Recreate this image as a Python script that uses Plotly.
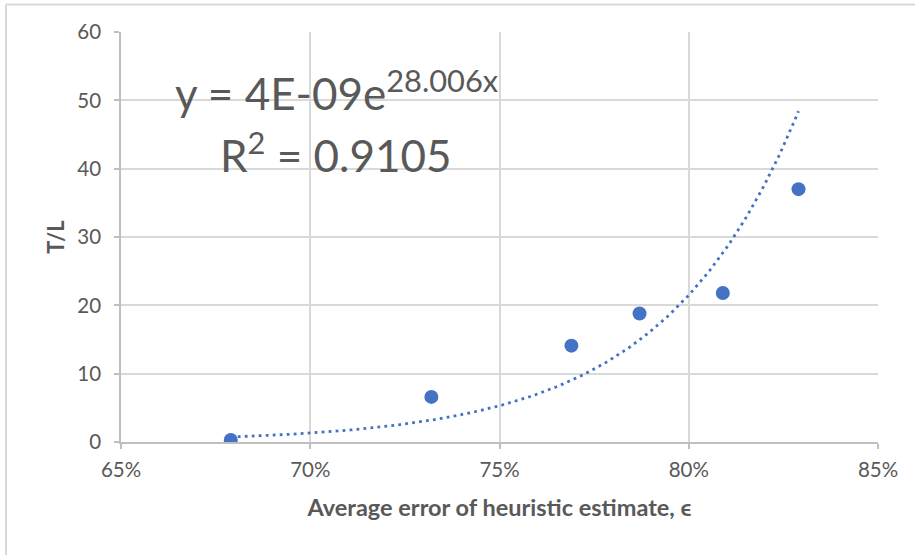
import numpy as np
import plotly.graph_objects as go

# Average error of the heuristic estimate (fraction) and the measured T/L ratio
eps = [0.679, 0.732, 0.769, 0.787, 0.809, 0.829]
ratio = [0.3, 6.6, 14.1, 18.8, 21.8, 37.0]

# Exponential trendline coefficients: y = a * exp(b * x)
trend_a = 4e-09
trend_b = 28.006
r_squared = 0.9105

x_ticks = [0.65, 0.70, 0.75, 0.80, 0.85]
x_tick_text = ["65%", "70%", "75%", "80%", "85%"]
y_ticks = [0, 10, 20, 30, 40, 50, 60]

BLUE = "#4472C4"
TEXT = "#595959"
GRID = "#d9d9d9"
AXIS = "#bfbfbf"
FONT = "Lato"

W, H = 915, 555
L, R, T, B = 121, 37, 32, 113
PW, PH = W - L - R, H - T - B


def px_to_paper(px, py):
    return (px - L) / PW, 1 - (py - T) / PH


xs = np.linspace(min(eps), max(eps), 200)
ys = trend_a * np.exp(trend_b * xs)

fig = go.Figure()
fig.add_trace(go.Scatter(
    x=xs, y=ys, mode="lines",
    line=dict(color=BLUE, width=2.8, dash="2.8px,4.2px"),
    hoverinfo="skip", showlegend=False,
))
fig.add_trace(go.Scatter(
    x=eps, y=ratio, mode="markers",
    marker=dict(color=BLUE, size=14, line=dict(width=0)),
    showlegend=False,
))

eq_text = f"y = {trend_a:.0E}e<sup>{trend_b:.3f}x</sup>"
r2_text = f"R<sup>2</sup> = {r_squared:.4f}"
for text, (px, py) in [(eq_text, (336, 90)), (r2_text, (336, 152))]:
    ax_, ay_ = px_to_paper(px, py)
    fig.add_annotation(
        x=ax_, y=ay_, xref="paper", yref="paper", xanchor="center", yanchor="middle",
        text=text, showarrow=False, font=dict(family=FONT, size=44, color=TEXT),
    )

# chart frame (top and left edges)
fx0, fy0 = px_to_paper(6, 4.5)
fx1, fy1 = px_to_paper(W, H)
fig.add_shape(type="line", xref="paper", yref="paper",
              x0=fx0, x1=fx1, y0=fy0, y1=fy0,
              line=dict(color=GRID, width=2))
fig.add_shape(type="line", xref="paper", yref="paper",
              x0=fx0, x1=fx0, y0=fy0, y1=fy1,
              line=dict(color=GRID, width=2))

fig.update_layout(
    width=W, height=H, autosize=False,
    margin=dict(l=L, r=R, t=T, b=B),
    paper_bgcolor="white", plot_bgcolor="white",
    font=dict(family=FONT, color=TEXT),
    xaxis=dict(
        range=[0.65, 0.85], tickvals=x_ticks, ticktext=x_tick_text,
        showgrid=True, gridcolor=GRID, gridwidth=1.5,
        showline=True, linecolor=AXIS, linewidth=1.5,
        ticks="outside", ticklen=5, tickcolor=AXIS, tickwidth=1.5,
        zeroline=False, tickfont=dict(size=20.5, color=TEXT),
        ticklabelstandoff=4,
        title=dict(text="<b>Average error of heuristic estimate, ϵ</b>",
                   font=dict(size=23.5, color=TEXT), standoff=19),
    ),
    yaxis=dict(
        range=[0, 60], tickvals=y_ticks,
        showgrid=True, gridcolor=GRID, gridwidth=1.5,
        showline=True, linecolor=AXIS, linewidth=1.5,
        ticks="outside", ticklen=5, tickcolor=AXIS, tickwidth=1.5,
        zeroline=False, tickfont=dict(size=20.5, color=TEXT),
        ticklabelstandoff=9,
        title=dict(text="<b>T/L</b>", font=dict(size=22, color=TEXT), standoff=7),
    ),
)

fig.write_html("out.html")
